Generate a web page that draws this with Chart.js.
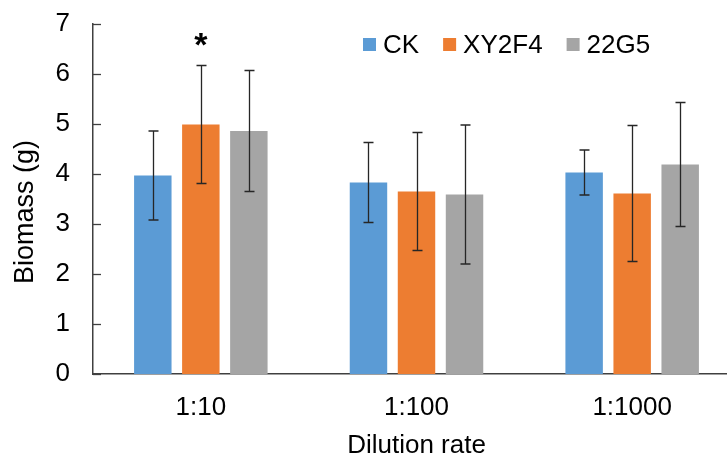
<!DOCTYPE html>
<html>
<head>
<meta charset="utf-8">
<script src="https://cdn.jsdelivr.net/npm/chart.js@4.4.1/dist/chart.umd.min.js"></script>
<style>
  html, body { margin: 0; padding: 0; background: #fff; overflow: hidden; }
  #wrap { width: 727px; height: 454px; overflow: hidden; }
</style>
</head>
<body>
<div id="wrap"><canvas id="biomassChart" width="740" height="454"></canvas></div>
<script>
// --- data ---
const dilutions = ['1:10', '1:100', '1:1000'];
const seriesNames = ['CK', 'XY2F4', '22G5'];
const ckMean = [3.97, 3.83, 4.03];
const ckErr = [0.89, 0.80, 0.45];
const xyMean = [4.99, 3.65, 3.61];
const xyErr = [1.18, 1.18, 1.36];
const g5Mean = [4.86, 3.59, 4.19];
const g5Err = [1.21, 1.39, 1.24];
const yTicks = [0, 1, 2, 3, 4, 5, 6, 7];
const xTitle = 'Dilution rate';
const yTitle = 'Biomass (g)';
const starMarks = [{ series: 1, index: 0, text: '*' }];

const colors = ['#5B9BD5', '#ED7D31', '#A5A5A5'];
const FONT = "'Liberation Sans', Arial, sans-serif";
const errors = [ckErr, xyErr, g5Err];

// error bars, inner tick marks, axis titles, significance star and legend
const extrasPlugin = {
    id: 'extras',
    afterDatasetsDraw(chart) {
        const { ctx, scales: { y }, chartArea } = chart;
        ctx.save();

        // y axis tick marks pointing into the plot
        ctx.strokeStyle = '#404040';
        ctx.lineWidth = 1.3;
        yTicks.forEach(v => {
            const py = Math.round(y.getPixelForValue(v)) + 0.5;
            ctx.beginPath();
            ctx.moveTo(chartArea.left, py);
            ctx.lineTo(chartArea.left + 8, py);
            ctx.stroke();
        });

        // error bars
        ctx.strokeStyle = '#262626';
        ctx.lineWidth = 1.3;
        chart.data.datasets.forEach((ds, di) => {
            const meta = chart.getDatasetMeta(di);
            meta.data.forEach((bar, i) => {
                const v = ds.data[i], e = errors[di][i];
                const top = y.getPixelForValue(v + e);
                const bot = y.getPixelForValue(v - e);
                const x = Math.round(bar.x) + 0.5;
                ctx.beginPath();
                ctx.moveTo(x, top); ctx.lineTo(x, bot);
                ctx.moveTo(x - 5, top); ctx.lineTo(x + 5, top);
                ctx.moveTo(x - 5, bot); ctx.lineTo(x + 5, bot);
                ctx.stroke();
            });
        });

        // significance star
        ctx.fillStyle = '#000';
        ctx.font = 'bold 34px ' + FONT;
        ctx.textAlign = 'center';
        ctx.textBaseline = 'alphabetic';
        starMarks.forEach(s => {
            const bar = chart.getDatasetMeta(s.series).data[s.index];
            const v = chart.data.datasets[s.series].data[s.index] + errors[s.series][s.index];
            ctx.fillText(s.text, bar.x, y.getPixelForValue(v) - 10);
        });

        // axis titles
        ctx.font = '26px ' + FONT;
        ctx.fillText(xTitle, (chartArea.left + chartArea.right) / 2, 453);
        ctx.save();
        ctx.font = '27px ' + FONT;
        ctx.translate(33, 212);
        ctx.rotate(-Math.PI / 2);
        ctx.fillText(yTitle, 0, 0);
        ctx.restore();

        // legend inside plot area
        ctx.font = '26px ' + FONT;
        ctx.textAlign = 'left';
        let lx = 363;
        chart.data.datasets.forEach((ds, di) => {
            ctx.fillStyle = ds.backgroundColor;
            ctx.fillRect(lx, 38, 13, 13);
            ctx.fillStyle = '#000';
            ctx.fillText(ds.label, lx + 20, 53);
            lx += 20 + ctx.measureText(ds.label).width + 24;
        });
        ctx.restore();
    }
};

new Chart(document.getElementById('biomassChart'), {
    type: 'bar',
    data: {
        labels: dilutions,
        datasets: [ckMean, xyMean, g5Mean].map((d, i) => ({
            label: seriesNames[i],
            data: d,
            backgroundColor: colors[i],
            borderWidth: 0,
            barPercentage: 0.78,
            categoryPercentage: 0.668
        }))
    },
    options: {
        responsive: false,
        animation: false,
        layout: { padding: { top: 24, right: 0, left: 0, bottom: 0 } },
        plugins: { legend: { display: false }, tooltip: { enabled: false } },
        scales: {
            x: {
                grid: { display: false, drawTicks: false },
                border: { display: true, color: '#404040', width: 1.5 },
                ticks: { color: '#000', font: { family: FONT, size: 26 }, padding: 18 },
                title: { display: false },
                afterFit(scale) { scale.height = 80; scale.paddingLeft = 0; scale.paddingRight = 0; }
            },
            y: {
                min: 0,
                max: 7,
                afterBuildTicks(scale) { scale.ticks = yTicks.map(v => ({ value: v })); },
                grid: { display: false, drawTicks: false },
                border: { display: true, color: '#404040', width: 1.5 },
                ticks: { color: '#000', font: { family: FONT, size: 26 }, padding: 23 },
                title: { display: false },
                afterFit(scale) { scale.width = 93; scale.paddingTop = 0; scale.paddingBottom = 0; }
            }
        }
    },
    plugins: [extrasPlugin]
});
</script>
</body>
</html>
